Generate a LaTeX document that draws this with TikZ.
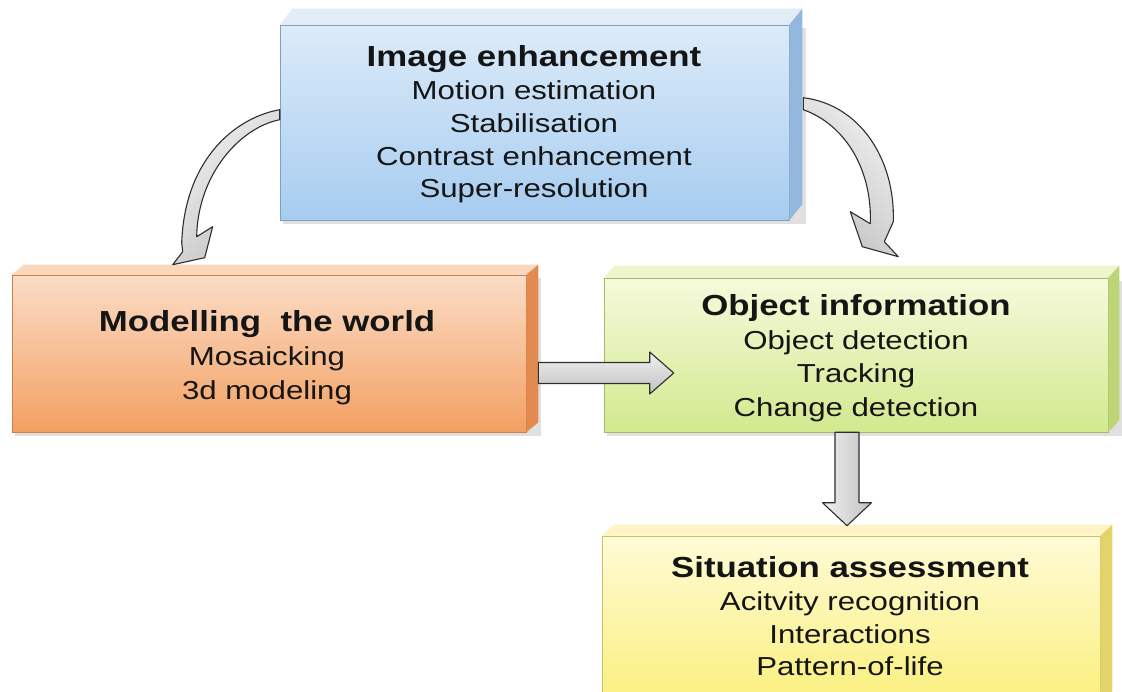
\documentclass[tikz,border=0pt]{standalone}
\usepackage{fontspec}
\setmainfont{Liberation Sans}[FakeStretch=1.2]
\usetikzlibrary{calc}
\definecolor{txt}{HTML}{151515}
\definecolor{blT}{HTML}{DCEBF9}\definecolor{blB}{HTML}{A6CCF0}\definecolor{blS}{HTML}{93B7DD}\definecolor{blV}{HTML}{E2EDF8}\definecolor{blD}{HTML}{7F9FC2}
\definecolor{orT}{HTML}{FBDCC6}\definecolor{orB}{HTML}{F3A062}\definecolor{orS}{HTML}{E28B50}\definecolor{orV}{HTML}{F9D8BE}\definecolor{orD}{HTML}{C9804C}
\definecolor{gnT}{HTML}{F6FADC}\definecolor{gnB}{HTML}{D2E98E}\definecolor{gnS}{HTML}{BDD577}\definecolor{gnV}{HTML}{EEF5CA}\definecolor{gnD}{HTML}{A3B86A}
\definecolor{ywT}{HTML}{FFFBD6}\definecolor{ywB}{HTML}{FAEF7E}\definecolor{ywS}{HTML}{E3D46A}\definecolor{ywV}{HTML}{FCF4C4}\definecolor{ywD}{HTML}{CDBE6A}
\definecolor{arD}{HTML}{2E2E2E}
\tikzset{
  face/.style={inner sep=0pt, shading=axis, shading angle=0},
  ttl/.style={anchor=base, text=txt, font=\bfseries\fontsize{29}{33}\selectfont, inner sep=0pt},
  bdy/.style={anchor=base, text=txt, font=\fontsize{26}{33}\selectfont, inner sep=0pt},
  blockarrow/.style={draw=arD, line width=1.1pt, line join=round, shading=axis, top color=gray!12, bottom color=gray!48},
  boxshadow/.style={fill=black, opacity=0.12}
}
\newcommand{\boxdepth}[5]{% node, dx, dy, bevel colour, side colour
  \fill[#4] (#1.north west) -- ++(#2,-#3) -- ($(#1.north east)+(#2,-#3)$) -- (#1.north east) -- cycle;
  \fill[#5] (#1.north east) -- ++(#2,-#3) -- ($(#1.south east)+(#2,-#3)$) -- (#1.south east) -- cycle;
}
\begin{document}
\begin{tikzpicture}[x=1pt,y=-1pt]
\useasboundingbox (0,0) rectangle (1122,692);
\fill[white] (0,0) rectangle (1122,692);

% shadows
\fill[boxshadow] (283,28) rectangle (806,224);
\fill[boxshadow] (15,278) rectangle (541,436);
\fill[boxshadow] (607,281) rectangle (1122,436);

% boxes (front faces)
\node[face, top color=blT, bottom color=blB, draw=blD, line width=0.6pt, minimum width=509pt, minimum height=195pt] (bl) at (534.5,122.5) {};
\boxdepth{bl}{13}{16}{blV}{blS}
\node[face, top color=orT, bottom color=orB, draw=orD, line width=0.6pt, minimum width=514pt, minimum height=157pt] (og) at (269,353.5) {};
\boxdepth{og}{12}{10}{orV}{orS}
\node[face, top color=gnT, bottom color=gnB, draw=gnD, line width=0.6pt, minimum width=504pt, minimum height=154pt] (gn) at (856,355) {};
\boxdepth{gn}{11}{12}{gnV}{gnS}
\node[face, top color=ywT, bottom color=ywB, draw=ywD, line width=0.6pt, minimum width=498pt, minimum height=166pt] (yw) at (851,619) {};
\boxdepth{yw}{12}{11}{ywV}{ywS}

% texts
\node[ttl] (b0) at (534,67) {Image enhancement};
\node[bdy] (b1) at (534,100) {Motion estimation};
\node[bdy] (b2) at (534,133) {Stabilisation};
\node[bdy] (b3) at (534,166) {Contrast enhancement};
\node[bdy] (b4) at (534,198) {Super-resolution};

\node[ttl] (o0) at (267,332) {Modelling\ \ the world};
\node[bdy] (o1) at (267,366) {Mosaicking};
\node[bdy] (o2) at (267,400) {3d modeling};

\node[ttl] (g0) at (856,316) {Object information};
\node[bdy] (g1) at (856,350) {Object detection};
\node[bdy] (g2) at (856,383) {Tracking};
\node[bdy] (g3) at (856,417) {Change detection};

\node[ttl] (y0) at (850,577) {Situation assessment};
\node[bdy] (y1) at (850,610) {Acitvity recognition};
\node[bdy] (y2) at (850,643) {Interactions};
\node[bdy] (y3) at (850,675) {Pattern-of-life};

% horizontal block arrow: orange -> green
\coordinate (h0) at ($(og.east)+(12,19.5)$);
\coordinate (h1) at ($(gn.west |- h0)+(70,0)$);
\draw[blockarrow] ($(h0)+(0,-10.5)$) -- ($(h1)+(-24,-10.5)$) -- ($(h1)+(-24,-21)$) -- (h1)
   -- ($(h1)+(-24,21)$) -- ($(h1)+(-24,10.5)$) -- ($(h0)+(0,10.5)$) -- cycle;

% vertical block arrow: green -> yellow
\coordinate (v0) at ($(gn.south)+(-9,0)$);
\coordinate (v1) at ($(v0 |- yw.north)+(0,-10)$);
\draw[blockarrow, shading angle=90] ($(v0)+(-12,0)$) -- ($(v1)+(-12,-23)$) -- ($(v1)+(-24.5,-23)$) -- (v1)
   -- ($(v1)+(24.5,-23)$) -- ($(v1)+(12,-23)$) -- ($(v0)+(12,0)$) -- cycle;

% curved arrow: blue -> orange
\coordinate (la) at ($(bl.north west)+(0,85)$);
\begin{scope}[shift={(la)}]
\draw[blockarrow, shading angle=45] (0,0) .. controls (-45,8) and (-95,50) .. (-98,133) -- (-97,142) -- (-107,155)
   -- (-75,148) -- (-67,117) -- (-83,127) .. controls (-82,65) and (-40,18) .. (0,10) -- cycle;
\end{scope}

% curved arrow: blue -> green
\coordinate (ra) at ($(bl.north east)+(14,73)$);
\begin{scope}[shift={(ra)}]
\draw[blockarrow, shading angle=-45] (0,0) .. controls (57,7) and (92,62) .. (90,124) -- (81,144) -- (95,159)
   -- (59,149) -- (47,114) -- (67,126) .. controls (69,72) and (42,27) .. (0,12) -- cycle;
\end{scope}
\end{tikzpicture}
\end{document}
